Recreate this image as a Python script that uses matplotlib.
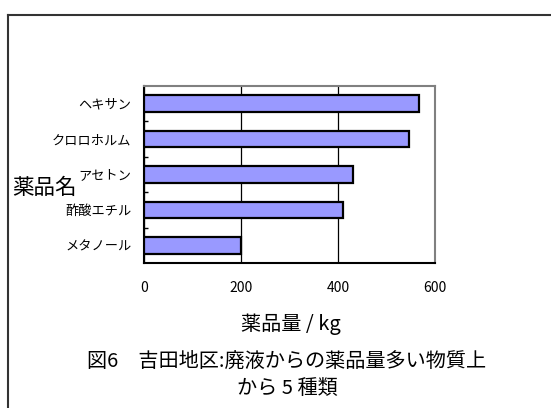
import matplotlib
matplotlib.use('Agg')
import matplotlib.pyplot as plt
from matplotlib.lines import Line2D
import numpy as np

plt.rcParams['font.family'] = ['Noto Sans CJK JP', 'DejaVu Sans']

# data
chemicals = ['ヘキサン', 'クロロホルム', 'アセトン', '酢酸エチル', 'メタノール']
amounts = [567, 547, 431, 411, 200]
xticks = [0, 200, 400, 600]

fig = plt.figure(figsize=(5.51, 4.08), dpi=100)
ax = fig.add_axes([144/551, 1-263/408, 291/551, 177/408])

# top category first
y = np.arange(len(chemicals))[::-1]
ax.barh(y, amounts, height=0.47, color='#9999ff', edgecolor='black',
        linewidth=1.6, zorder=3)

ax.set_xlim(0, 600)
ax.set_ylim(-0.5, len(chemicals)-0.5)
ax.set_xticks(xticks)
ax.set_xticklabels([str(v) for v in xticks], fontsize=10)
ax.tick_params(axis='x', length=0, pad=13)
ax.set_yticks(y)
ax.set_yticklabels(chemicals, fontsize=9.5)
ax.tick_params(axis='y', which='major', length=0, pad=9)
ax.set_yticks(np.arange(len(chemicals)-1)+0.5, minor=True)
ax.tick_params(axis='y', which='minor', direction='in', length=3, width=1)

ax.grid(axis='x', color='black', linewidth=0.9, zorder=0)

ax.spines['left'].set_linewidth(1.5)
ax.spines['bottom'].set_linewidth(1.5)
ax.spines['top'].set_color('#808080')
ax.spines['right'].set_color('#808080')
ax.spines['top'].set_linewidth(1.5)
ax.spines['right'].set_linewidth(1.5)

# axis labels
fig.text(291/551, 1-324/408, '薬品量 / kg', fontsize=14.5, ha='center', va='center')
fig.text(44/551, 1-188/408, '薬品名', fontsize=15.5, ha='center', va='center')

# caption
fig.text(287/551, 1-361/408, '図6　吉田地区:廃液からの薬品量多い物質上',
         fontsize=14.5, ha='center', va='center')
fig.text(287/551, 1-389/408, 'から 5 種類', fontsize=14.5, ha='center', va='center')

# outer frame (left and top edges visible)
x0 = 8/551
y0 = 1-15/408
fig.add_artist(Line2D([x0, x0], [y0, -0.1], color='#333333', lw=1.5,
                      transform=fig.transFigure))
fig.add_artist(Line2D([x0, 1.1], [y0, y0], color='#333333', lw=1.5,
                      transform=fig.transFigure))

plt.savefig('out.png', dpi=100)
